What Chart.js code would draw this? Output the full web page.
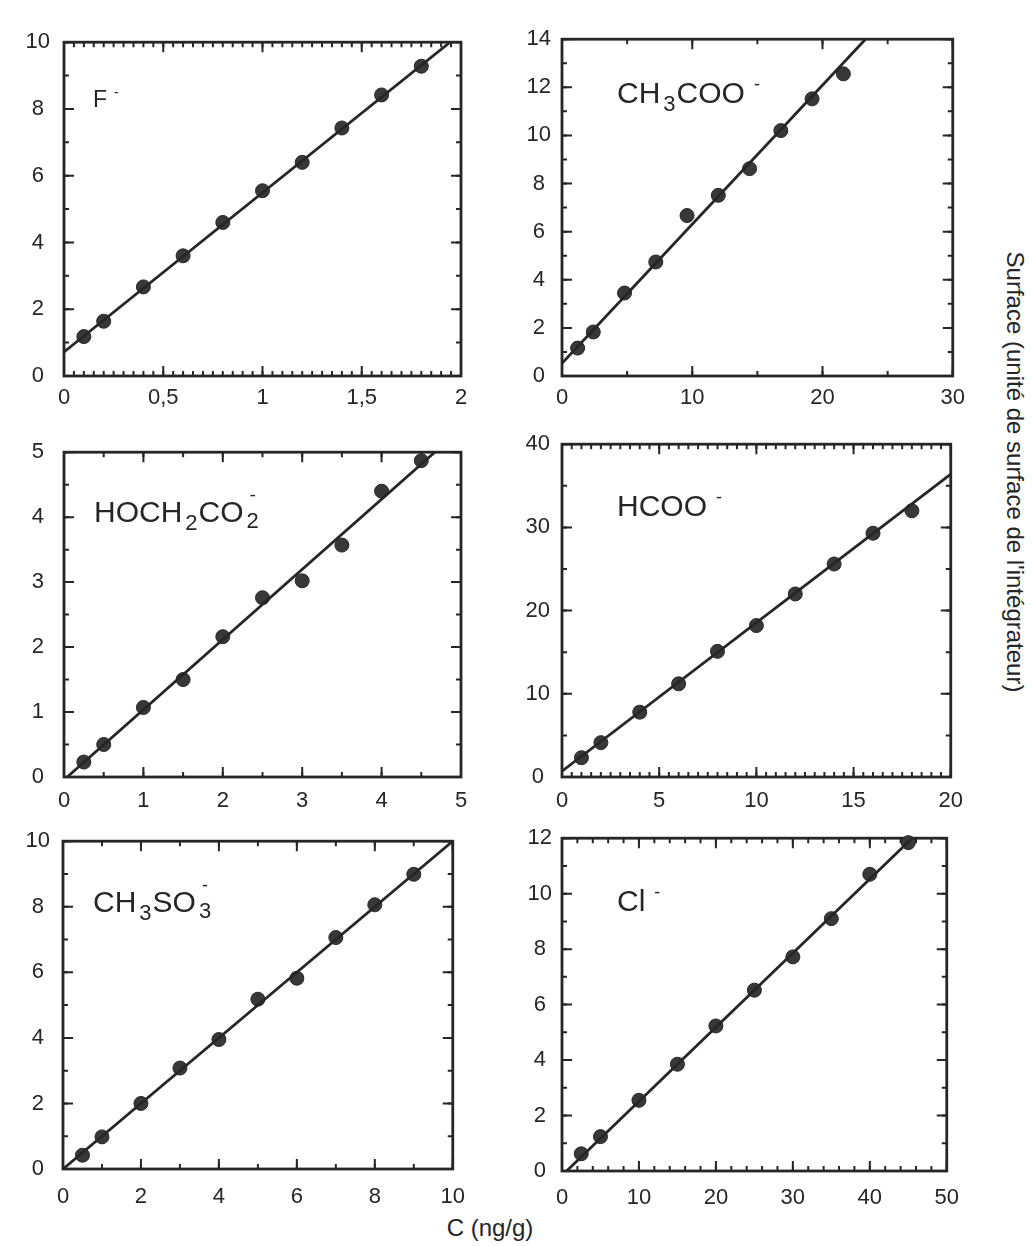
<!DOCTYPE html>
<html lang="fr">
<head>
<meta charset="utf-8">
<title>Droites d'étalonnage</title>
<script src="https://cdn.jsdelivr.net/npm/chart.js@4.4.1/dist/chart.umd.min.js"></script>
<style>
	body { margin: 0; background: #fff; }
	#page { position: relative; width: 1032px; height: 1246px; overflow: hidden; font-family: 'Liberation Sans', Arial, sans-serif; color: #262626; }
	#page canvas { position: absolute; }
	.axis-title { position: absolute; font-size: 24px; white-space: nowrap; }
	#xTitle { left: 490px; top: 1228px; transform: translate(-50%, -50%); }
	#yTitle { left: 1015px; top: 472px; transform: translate(-50%, -50%) rotate(90deg); }
</style>
</head>
<body>
<div id="page">
	<div id="xTitle" class="axis-title">C (ng/g)</div>
	<div id="yTitle" class="axis-title">Surface (unité de surface de l'intégrateur)</div>
</div>
<script>
// F-
const fluoX = [0.1, 0.2, 0.4, 0.6, 0.8, 1.0, 1.2, 1.4, 1.6, 1.8];
const fluoY = [1.18, 1.64, 2.67, 3.6, 4.6, 5.55, 6.4, 7.43, 8.42, 9.28];
const fluoFitX = [0, 1.945];
const fluoFitY = [0.72, 10];
const fluoXTicks = [0, 0.5, 1, 1.5, 2];
const fluoYTicks = [0, 2, 4, 6, 8, 10];

// CH3COO-
const acetX = [1.2, 2.4, 4.8, 7.2, 9.6, 12, 14.4, 16.8, 19.2, 21.6];
const acetY = [1.16, 1.83, 3.45, 4.74, 6.67, 7.51, 8.62, 10.2, 11.52, 12.56];
const acetFitX = [0, 23.3];
const acetFitY = [0.53, 14];
const acetXTicks = [0, 10, 20, 30];
const acetYTicks = [0, 2, 4, 6, 8, 10, 12, 14];

// HOCH2CO2-
const glycX = [0.25, 0.5, 1, 1.5, 2, 2.5, 3, 3.5, 4, 4.5];
const glycY = [0.23, 0.5, 1.07, 1.5, 2.16, 2.76, 3.02, 3.57, 4.4, 4.87];
const glycFitX = [0.04, 4.67];
const glycFitY = [0, 5];
const glycXTicks = [0, 1, 2, 3, 4, 5];
const glycYTicks = [0, 1, 2, 3, 4, 5];

// HCOO-
const formX = [1, 2, 4, 6, 8, 10, 12, 14, 16, 18];
const formY = [2.32, 4.13, 7.79, 11.2, 15.1, 18.2, 22.0, 25.6, 29.3, 32.0];
const formFitX = [0, 20];
const formFitY = [0.7, 36.4];
const formXTicks = [0, 5, 10, 15, 20];
const formYTicks = [0, 10, 20, 30, 40];

// CH3SO3-
const mesX = [0.5, 1, 2, 3, 4, 5, 6, 7, 8, 9];
const mesY = [0.42, 0.98, 2.0, 3.08, 3.95, 5.18, 5.82, 7.06, 8.06, 8.99];
const mesFitX = [0, 10];
const mesFitY = [0, 10];
const mesXTicks = [0, 2, 4, 6, 8, 10];
const mesYTicks = [0, 2, 4, 6, 8, 10];

// Cl-
const chlX = [2.5, 5, 10, 15, 20, 25, 30, 35, 40, 45];
const chlY = [0.62, 1.24, 2.55, 3.85, 5.23, 6.52, 7.72, 9.1, 10.7, 11.84];
const chlFitX = [0.6, 45.5];
const chlFitY = [0, 12];
const chlXTicks = [0, 10, 20, 30, 40, 50];
const chlYTicks = [0, 2, 4, 6, 8, 10, 12];

// ion names: [text, kind]
const fluoName = [['F', 'n'], ['-', 'sup']];
const acetName = [['CH', 'n'], ['3', 'sub'], ['COO', 'n'], ['-', 'sup']];
const glycName = [['HOCH', 'n'], ['2', 'sub'], ['CO', 'n'], ['2', 'subsup']];
const formName = [['HCOO', 'n'], ['-', 'sup']];
const mesName = [['CH', 'n'], ['3', 'sub'], ['SO', 'n'], ['3', 'subsup']];
const chlName = [['Cl', 'n'], ['-', 'sup']];

const FONT = "'Liberation Sans', Arial, sans-serif";
const INK = '#262626';

const panels = [
	{ left: 64, top: 29, w: 397, h: 347, xs: fluoX, ys: fluoY, fitX: fluoFitX, fitY: fluoFitY, xTicks: fluoXTicks, yTicks: fluoYTicks, xMinor: 0.05, yMinor: 1, name: fluoName, nameSize: 23, nameX: 29, nameY: 65, yPad: 14, xPad: 9 },
	{ left: 562, top: 29, w: 392, h: 347, xs: acetX, ys: acetY, fitX: acetFitX, fitY: acetFitY, xTicks: acetXTicks, yTicks: acetYTicks, xMinor: 5, yMinor: 1, name: acetName, nameSize: 30, nameX: 55, nameY: 64, yPad: 11, xPad: 9 },
	{ left: 64, top: 433, w: 397, h: 344, xs: glycX, ys: glycY, fitX: glycFitX, fitY: glycFitY, xTicks: glycXTicks, yTicks: glycYTicks, xMinor: 0.5, yMinor: 0.5, name: glycName, nameSize: 30, nameX: 30, nameY: 70, yPad: 20, xPad: 11 },
	{ left: 562, top: 433, w: 392, h: 344, xs: formX, ys: formY, fitX: formFitX, fitY: formFitY, xTicks: formXTicks, yTicks: formYTicks, xMinor: 0.5, yMinor: 5, name: formName, nameSize: 30, nameX: 55, nameY: 72, yPad: 12, xPad: 11 },
	{ left: 63, top: 829, w: 397, h: 340, xs: mesX, ys: mesY, fitX: mesFitX, fitY: mesFitY, xTicks: mesXTicks, yTicks: mesYTicks, xMinor: 1, yMinor: 1, name: mesName, nameSize: 30, nameX: 30, nameY: 71, yPad: 13, xPad: 15 },
	{ left: 562, top: 829, w: 391, h: 342, xs: chlX, ys: chlY, fitX: chlFitX, fitY: chlFitY, xTicks: chlXTicks, yTicks: chlYTicks, xMinor: 2, yMinor: 1, name: chlName, nameSize: 30, nameX: 55, nameY: 73, yPad: 10, xPad: 14 },
];

// draw inward ticks on all four sides + frame
function drawFrame(chart, p) {
	const { ctx, chartArea: a, scales: { x, y } } = chart;
	ctx.save();
	ctx.strokeStyle = INK;
	ctx.lineWidth = 2;
	const mark = (px, len, vertical) => {
		ctx.beginPath();
		if (vertical) {
			ctx.moveTo(px, a.bottom); ctx.lineTo(px, a.bottom - len);
			ctx.moveTo(px, a.top); ctx.lineTo(px, a.top + len);
		} else {
			ctx.moveTo(a.left, px); ctx.lineTo(a.left + len, px);
			ctx.moveTo(a.right, px); ctx.lineTo(a.right - len, px);
		}
		ctx.stroke();
	};
	// minor ticks
	[[x, p.xMinor, true], [y, p.yMinor, false]].forEach(([scale, step, vertical]) => {
		const n = Math.round((scale.max - scale.min) / step);
		for (let i = 0; i <= n; i++) {
			mark(scale.getPixelForValue(scale.min + i * step), 5, vertical);
		}
	});
	// major ticks
	x.ticks.forEach((t) => mark(x.getPixelForValue(t.value), 10, true));
	y.ticks.forEach((t) => mark(y.getPixelForValue(t.value), 10, false));
	ctx.lineWidth = 2.8;
	ctx.strokeRect(a.left, a.top, a.right - a.left, a.bottom - a.top);
	ctx.restore();
}

// ion name with sub/superscripts
function drawName(chart, p) {
	const { ctx, chartArea: a } = chart;
	const size = p.nameSize;
	let cx = a.left + p.nameX;
	const by = a.top + p.nameY;
	ctx.save();
	ctx.fillStyle = INK;
	ctx.textBaseline = 'alphabetic';
	ctx.textAlign = 'left';
	p.name.forEach(([txt, kind]) => {
		if (kind === 'sub') {
			ctx.font = `${Math.round(size * 0.72)}px ${FONT}`;
			cx += 3;
			ctx.fillText(txt, cx, by + size * 0.25);
			cx += ctx.measureText(txt).width + 1;
		} else if (kind === 'sup') {
			ctx.font = `${Math.round(size * 0.6)}px ${FONT}`;
			cx += size * 0.3;
			ctx.fillText(txt, cx, by - size * 0.45);
			cx += ctx.measureText(txt).width;
		} else if (kind === 'subsup') {
			ctx.font = `${Math.round(size * 0.72)}px ${FONT}`;
			cx += 3;
			ctx.fillText(txt, cx, by + size * 0.2);
			const w = ctx.measureText(txt).width;
			ctx.font = `${Math.round(size * 0.6)}px ${FONT}`;
			const mw = ctx.measureText('-').width;
			ctx.fillText('-', cx + (w - mw) / 2, by - size * 0.7);
			cx += w;
		} else {
			ctx.font = `${size}px ${FONT}`;
			ctx.fillText(txt, cx, by);
			cx += ctx.measureText(txt).width;
		}
	});
	ctx.restore();
}

function makePanel(p) {
	const canvas = document.createElement('canvas');
	canvas.width = p.w + 76;
	canvas.height = p.h + 54;
	canvas.style.left = (p.left - 56) + 'px';
	canvas.style.top = (p.top - 14) + 'px';
	document.getElementById('page').appendChild(canvas);

	const tickFont = { family: FONT, size: 22 };

	new Chart(canvas.getContext('2d'), {
		type: 'scatter',
		data: {
			datasets: [
				{
					data: p.fitX.map((x, i) => ({ x: x, y: p.fitY[i] })),
					showLine: true,
					borderColor: INK,
					borderWidth: 2.8,
					pointRadius: 0,
				},
				{
					data: p.xs.map((x, i) => ({ x: x, y: p.ys[i] })),
					pointRadius: 7,
					pointBackgroundColor: '#383838',
					pointBorderColor: INK,
					pointBorderWidth: 1,
					clip: false,
				},
			],
		},
		options: {
			responsive: false,
			animation: false,
			devicePixelRatio: 1,
			layout: { padding: { top: 14, right: 20, left: 0, bottom: 0 } },
			plugins: { legend: { display: false }, tooltip: { enabled: false } },
			scales: {
				x: {
					type: 'linear',
					min: p.xTicks[0],
					max: p.xTicks[p.xTicks.length - 1],
					afterBuildTicks: (s) => { s.ticks = p.xTicks.map((v) => ({ value: v })); },
					afterFit: (s) => { s.height = 40; },
					grid: { display: false, drawTicks: false },
					border: { display: false },
					ticks: {
						autoSkip: false,
						maxRotation: 0,
						padding: p.xPad,
						color: INK,
						font: tickFont,
						callback: (v) => String(v).replace('.', ','),
					},
				},
				y: {
					type: 'linear',
					min: p.yTicks[0],
					max: p.yTicks[p.yTicks.length - 1],
					afterBuildTicks: (s) => { s.ticks = p.yTicks.map((v) => ({ value: v })); },
					afterFit: (s) => { s.width = 56; },
					grid: { display: false, drawTicks: false },
					border: { display: false },
					ticks: {
						autoSkip: false,
						crossAlign: 'center',
						padding: p.yPad,
						color: INK,
						font: tickFont,
					},
				},
			},
		},
		plugins: [
			{
				id: 'deco',
				beforeDatasetsDraw: (chart) => drawFrame(chart, p),
				afterDraw: (chart) => drawName(chart, p),
			},
		],
	});
}

panels.forEach(makePanel);
</script>
</body>
</html>
